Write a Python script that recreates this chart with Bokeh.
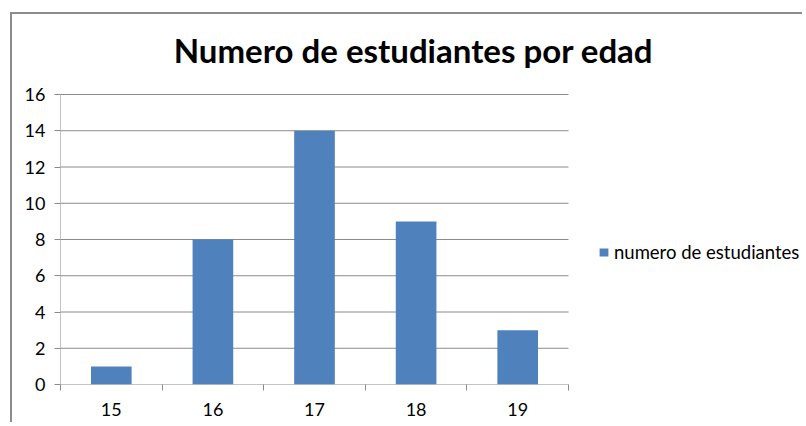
from bokeh.plotting import figure
from bokeh.models import Range1d, FixedTicker, Legend, LegendItem, Label
from bokeh.embed import file_html
from bokeh.resources import INLINE

title_text = "Numero de estudiantes por edad"
categories = ["15", "16", "17", "18", "19"]
values = [1, 8, 14, 9, 3]
series_name = "numero de estudiantes"
y_ticks = [0, 2, 4, 6, 8, 10, 12, 14, 16]
y_max = 16

n = len(categories)
centers = [i + 0.5 for i in range(n)]
bounds = list(range(n + 1))

FONT = "Lato"
GRAY = "#8a8a8a"

# layout constants (pixels)
PLOT_W = 792
PLOT_H = 410
BORDER_L = 48
BORDER_B = 40
CHART_W = 508          # width of the category area
CHART_H = 290          # height of the value area
FRAME_W = PLOT_W - BORDER_L
FRAME_H = PLOT_H - BORDER_B
x_end = n * FRAME_W / CHART_W       # frame extends right to host the legend
y_end = y_max * FRAME_H / CHART_H   # and up to host the title

p = figure(width=PLOT_W, height=PLOT_H, output_backend="svg", toolbar_location=None,
           x_range=Range1d(0, x_end), y_range=Range1d(0, y_end),
           min_border_left=BORDER_L, min_border_right=0, min_border_top=0,
           min_border_bottom=BORDER_B)
p.margin = (12, 0, 0, 10)
p.styles = {"border-left": "2px solid #8c8c8c", "border-top": "2px solid #8c8c8c"}
p.outline_line_color = None
p.background_fill_color = "white"
p.border_fill_color = "white"

# gridlines limited to the category area
p.segment(x0=[0] * len(y_ticks), x1=[n] * len(y_ticks), y0=y_ticks, y1=y_ticks,
          line_color=GRAY, line_width=1)
# value axis line
p.segment(x0=[0], x1=[0], y0=[0], y1=[y_max], line_color=GRAY, line_width=1)

r = p.vbar(x=centers, top=values, width=0.4, fill_color="#4F81BD", line_color=None)

# axes
p.xaxis.ticker = FixedTicker(ticks=centers, minor_ticks=bounds)
p.xaxis.major_label_overrides = {c: lab for c, lab in zip(centers, categories)}
p.xaxis.major_tick_out = 0
p.xaxis.major_tick_in = 0
p.xaxis.minor_tick_out = 6
p.xaxis.minor_tick_in = 0
p.xaxis.minor_tick_line_color = GRAY
p.xaxis.major_label_standoff = 12
p.xaxis.axis_line_color = None

p.yaxis.ticker = FixedTicker(ticks=y_ticks)
p.yaxis.major_tick_out = 6
p.yaxis.major_tick_in = 0
p.yaxis.major_tick_line_color = GRAY
p.yaxis.minor_tick_line_color = None
p.yaxis.major_label_standoff = 9
p.yaxis.axis_line_color = None

for ax in (p.xaxis, p.yaxis):
    ax.major_label_text_font = FONT
    ax.major_label_text_font_size = "18px"
    ax.major_label_text_color = "black"

p.xgrid.grid_line_color = None
p.ygrid.grid_line_color = None

# title
title = Label(x=353, y=335, x_units="screen", y_units="screen", text=title_text,
              text_font=FONT, text_font_style="bold", text_font_size="33px",
              text_align="center", text_baseline="alphabetic", text_color="black")
p.add_layout(title)

# legend
legend = Legend(items=[LegendItem(label=series_name, renderers=[r])],
                location=(538, 121), padding=0, margin=0,
                border_line_color=None, background_fill_alpha=0,
                glyph_width=11, glyph_height=10, label_standoff=5,
                label_height=10, label_text_font=FONT,
                label_text_font_size="18.5px", label_text_color="black",
                label_text_baseline="middle")
p.add_layout(legend, "center")

open("out.html", "w").write(file_html(p, INLINE))
